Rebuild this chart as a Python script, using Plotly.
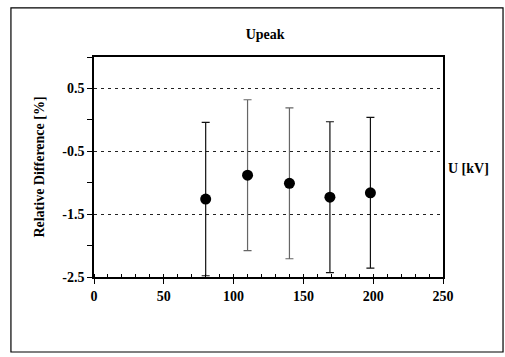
import plotly.graph_objects as go

# Data
voltage_kv = [80, 110, 140, 169, 198]
rel_diff = [-1.26, -0.88, -1.01, -1.23, -1.16]
err = [1.22, 1.2, 1.2, 1.2, 1.2]
bar_style = ["solid", "dotted", "dotted", "solid", "solid"]

y_tick_vals = [0.5, -0.5, -1.5, -2.5]
y_tick_text = ["<b>0.5</b>", "<b>-0.5</b>", "<b>-1.5</b>", "<b>-2.5</b>"]
x_tick_vals = [0, 50, 100, 150, 200, 250]
x_tick_text = ["<b>%d</b>" % v for v in x_tick_vals]

FONT = "Liberation Serif, Times New Roman, DejaVu Serif, serif"

fig = go.Figure()

for style, color in [("solid", "#111111"), ("dotted", "#666666")]:
    idx = [i for i, s in enumerate(bar_style) if s == style]
    fig.add_trace(go.Scatter(
        x=[voltage_kv[i] for i in idx],
        y=[rel_diff[i] for i in idx],
        mode="markers",
        marker=dict(color="black", size=11),
        error_y=dict(type="data", array=[err[i] for i in idx], visible=True,
                     color=color, thickness=1.2, width=4),
        showlegend=False,
        cliponaxis=True,
    ))

fig.update_layout(
    width=505, height=357,
    margin=dict(l=94, r=62, t=57, b=80),
    paper_bgcolor="white", plot_bgcolor="white",
    font=dict(family=FONT, size=14, color="black"),
    title=dict(text="<b>Upeak</b>", x=0.525, xanchor="center", y=0.905, yanchor="middle",
               font=dict(family=FONT, size=14, color="black")),
    xaxis=dict(
        range=[0, 250], tickvals=x_tick_vals, ticktext=x_tick_text,
        ticks="outside", ticklen=5, tickwidth=1, tickcolor="black",
        minor=dict(dtick=10, ticks="inside", ticklen=3, tickcolor="black", showgrid=False),
        showline=True, linecolor="black", linewidth=1.5, mirror=True,
        showgrid=False, zeroline=False,
        tickfont=dict(family=FONT, size=14, color="black"),
    ),
    yaxis=dict(
        range=[-2.5, 1.0], tickvals=y_tick_vals, ticktext=y_tick_text,
        ticks="outside", ticklen=5, tickwidth=1, tickcolor="black",
        minor=dict(dtick=0.5, tick0=0, ticks="outside", ticklen=5, tickcolor="black", showgrid=False),
        showline=True, linecolor="black", linewidth=1.5, mirror=True,
        showgrid=True, gridcolor="#222222", griddash="3px,4px", gridwidth=1,
        zeroline=False,
        tickfont=dict(family=FONT, size=14, color="black"),
        title=dict(text="<b>Relative Difference [%]</b>", standoff=14,
                   font=dict(family=FONT, size=14, color="black")),
    ),
    shapes=[dict(type="rect", xref="paper", yref="paper",
                 x0=-0.238, x1=1.172, y0=-0.341, y1=1.223,
                 line=dict(color="black", width=1.2), layer="below")],
    annotations=[dict(text="<b>U [kV]</b>", xref="paper", yref="paper",
                      x=1.01, y=0.495, xanchor="left", yanchor="middle", showarrow=False,
                      font=dict(family=FONT, size=14, color="black"))],
)

fig.write_html("out.html", config={"displayModeBar": False},
               post_script="document.body.style.margin='0';")
